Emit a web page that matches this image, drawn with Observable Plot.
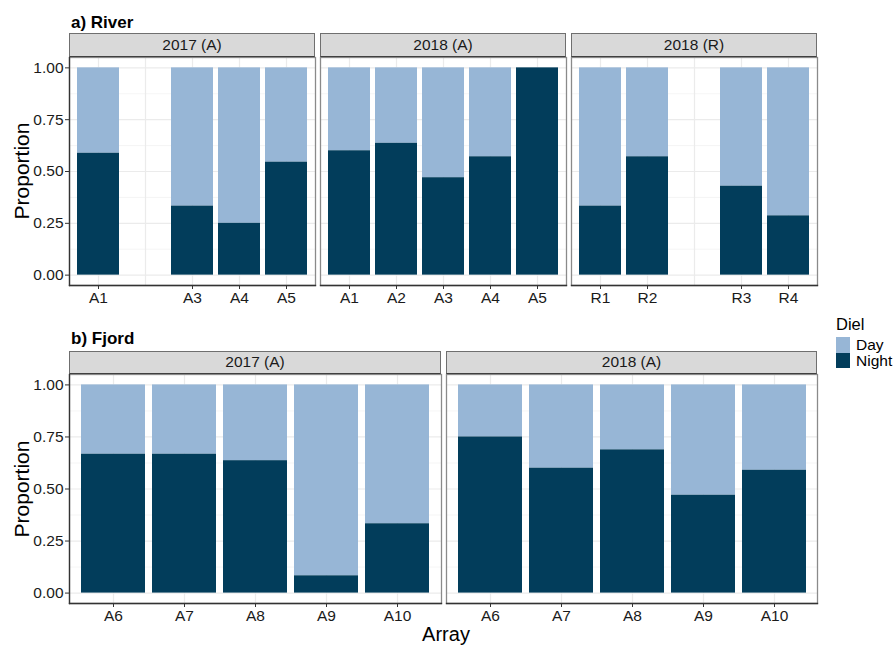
<!DOCTYPE html>
<html>
<head>
<meta charset="utf-8">
<script src="https://cdn.jsdelivr.net/npm/d3@7"></script>
<script src="https://cdn.jsdelivr.net/npm/@observablehq/plot@0.6"></script>
<style>
  html, body { margin: 0; padding: 0; background: #fff; }
  body { width: 896px; height: 646px; position: relative; overflow: hidden;
         font-family: "Liberation Sans", Arial, sans-serif; color: #1a1a1a; }
  .strip { position: absolute; box-sizing: border-box; background: #d9d9d9;
           border: 1.3px solid #6f6f6f; border-bottom-color: #404040;
           font-size: 15.5px; color: #1a1a1a; text-align: center; line-height: 21px; }
  .title { position: absolute; font-weight: bold; font-size: 17px; line-height: 17px; color: #000; }
  .ylab { position: absolute; font-size: 21px; line-height: 21px; white-space: nowrap;
          transform: translate(-50%, -50%) rotate(-90deg); color: #000; }
  .xlab { position: absolute; font-size: 20px; line-height: 20px; transform: translateX(-50%); color: #000; }
  .legend { position: absolute; left: 836px; top: 315px; font-size: 15.5px; color: #000; }
  .legend .head { font-size: 16.5px; line-height: 18px; margin-bottom: 4px; }
  .legend .row { display: flex; align-items: center; height: 15.5px; line-height: 15.5px; }
  .legend .sw { width: 14px; height: 15.5px; margin-right: 6px; }
</style>
</head>
<body>
<script>
// Diel colours
const dayColor = "#97b6d6";
const nightColor = "#023d5b";

// Y ticks (proportion)
const majorTicks = [0, 0.25, 0.5, 0.75, 1];
const minorTicks = [0.125, 0.375, 0.625, 0.875];

// a) River — proportion of detections at night per array
const riverFacets = ["2017 (A)", "2018 (A)", "2018 (R)"];
const river2017ASlots = ["A1", "A2", "A3", "A4", "A5"];
const river2017AArrays = ["A1", "A3", "A4", "A5"];
const river2017ANight = [0.588, 0.333, 0.25, 0.545];
const river2018ASlots = ["A1", "A2", "A3", "A4", "A5"];
const river2018AArrays = ["A1", "A2", "A3", "A4", "A5"];
const river2018ANight = [0.6, 0.636, 0.47, 0.571, 1.0];
const river2018RSlots = ["R1", "R2", "R2b", "R3", "R4"];
const river2018RArrays = ["R1", "R2", "R3", "R4"];
const river2018RNight = [0.333, 0.571, 0.429, 0.286];

// b) Fjord
const fjordFacets = ["2017 (A)", "2018 (A)"];
const fjordArrays = ["A6", "A7", "A8", "A9", "A10"];
const fjord2017ANight = [0.667, 0.667, 0.636, 0.083, 0.333];
const fjord2018ANight = [0.75, 0.6, 0.688, 0.47, 0.59];

const LEFT = 69;
const BOTTOM = 28;

function panel({slots, arrays, night, width, height, showY}) {
  const rows = arrays.map((a, i) => ({array: a, night: night[i]}));
  const marginLeft = showY ? LEFT : 0;
  return Plot.plot({
    width: width + marginLeft,
    height: height + BOTTOM,
    marginLeft, marginRight: 0, marginTop: 0, marginBottom: BOTTOM,
    style: {fontFamily: "Liberation Sans, Arial, sans-serif", fontSize: "15.5px", background: "transparent", overflow: "visible"},
    x: {type: "band", domain: slots, paddingInner: 0.1, paddingOuter: 0.15, axis: null, label: null},
    y: {domain: [-0.05, 1.05], axis: null, label: null},
    marks: [
      Plot.gridY(minorTicks, {stroke: "#f0f0f0", strokeOpacity: 1, strokeWidth: 0.7}),
      Plot.gridY(majorTicks, {stroke: "#ebebeb", strokeOpacity: 1, strokeWidth: 1.2}),
      Plot.gridX(slots, {stroke: "#ebebeb", strokeOpacity: 1, strokeWidth: 1.2}),
      Plot.barY(rows, {x: "array", y1: "night", y2: 1, fill: dayColor}),
      Plot.barY(rows, {x: "array", y1: 0, y2: "night", fill: nightColor}),
      Plot.frame({stroke: "#8a8a8a", strokeWidth: 1.3}),
      Plot.frame({anchor: "bottom", stroke: "#333", strokeWidth: 1.3}),
      showY ? Plot.frame({anchor: "left", stroke: "#333", strokeWidth: 1.3}) : null,
      Plot.axisX(arrays, {tickSize: 4, tickPadding: 2, fontSize: 15.5, stroke: "#333", fill: "#1a1a1a", label: null}),
      showY ? Plot.axisY(majorTicks, {tickSize: 4, tickPadding: 2, fontSize: 15.5, stroke: "#333", fill: "#1a1a1a",
                                       tickFormat: d3.format(".2f"), label: null}) : null
    ]
  });
}

function place(node, x, y) {
  node.style.position = "absolute";
  node.style.left = x + "px";
  node.style.top = y + "px";
  document.body.appendChild(node);
}
function addDiv(cls, text, css) {
  const d = document.createElement("div");
  d.className = cls;
  d.textContent = text;
  Object.assign(d.style, css);
  document.body.appendChild(d);
  return d;
}

// --- a) River ---
addDiv("title", "a) River", {left: "71px", top: "14px"});
const riverPanels = [
  {x: 69, slots: river2017ASlots, arrays: river2017AArrays, night: river2017ANight},
  {x: 320, slots: river2018ASlots, arrays: river2018AArrays, night: river2018ANight},
  {x: 571, slots: river2018RSlots, arrays: river2018RArrays, night: river2018RNight}
];
riverPanels.forEach((p, i) => {
  const w = 246, top = 57, h = 228;
  const chart = panel({slots: p.slots, arrays: p.arrays, night: p.night, width: w, height: h, showY: i === 0});
  place(chart, i === 0 ? p.x - LEFT : p.x, top);
  addDiv("strip", riverFacets[i], {left: p.x + "px", top: "33px", width: w + "px", height: "24px"});
});
addDiv("ylab", "Proportion", {left: "21px", top: "171px"});

// --- b) Fjord ---
addDiv("title", "b) Fjord", {left: "71px", top: "330px"});
const fjordPanels = [
  {x: 69, w: 372, night: fjord2017ANight},
  {x: 446, w: 371, night: fjord2018ANight}
];
fjordPanels.forEach((p, i) => {
  const top = 374, h = 229;
  const chart = panel({slots: fjordArrays, arrays: fjordArrays, night: p.night, width: p.w, height: h, showY: i === 0});
  place(chart, i === 0 ? p.x - LEFT : p.x, top);
  addDiv("strip", fjordFacets[i], {left: p.x + "px", top: "351px", width: p.w + "px", height: "23px", lineHeight: "20px"});
});
addDiv("ylab", "Proportion", {left: "21px", top: "489px"});
addDiv("xlab", "Array", {left: "446px", top: "624px"});

// Legend
const legend = document.createElement("div");
legend.className = "legend";
legend.innerHTML = `<div class="head">Diel</div>`;
[["Day", dayColor], ["Night", nightColor]].forEach(([name, color]) => {
  const row = document.createElement("div");
  row.className = "row";
  const sw = document.createElement("div");
  sw.className = "sw";
  sw.style.background = color;
  const lab = document.createElement("span");
  lab.textContent = name;
  row.appendChild(sw);
  row.appendChild(lab);
  legend.appendChild(row);
});
document.body.appendChild(legend);
</script>
</body>
</html>
